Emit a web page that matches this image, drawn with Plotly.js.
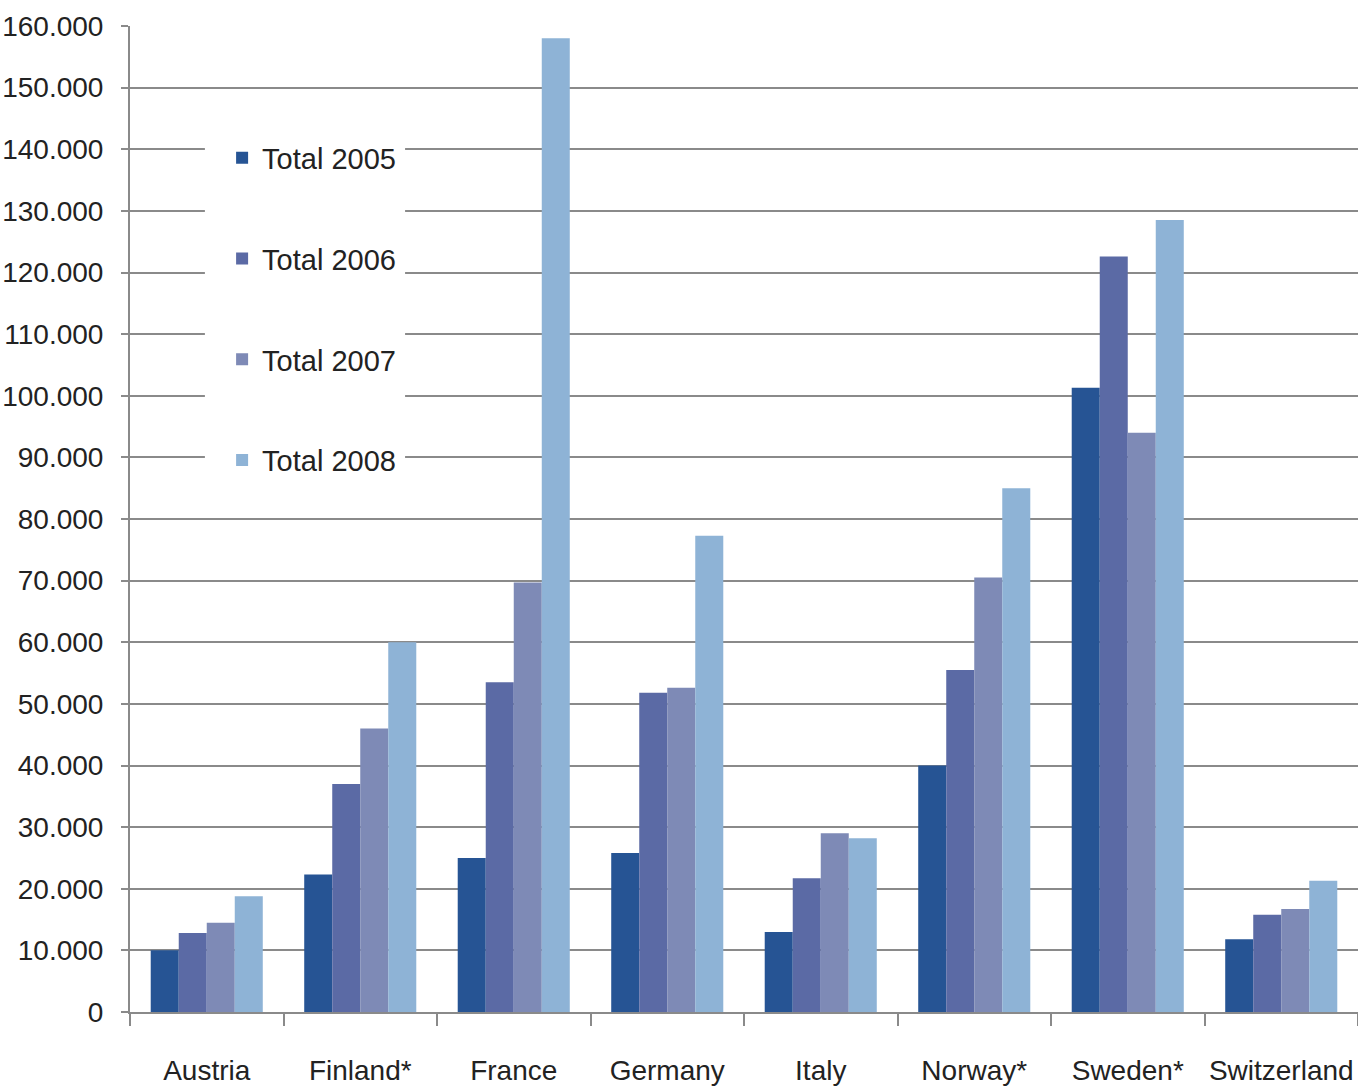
<!DOCTYPE html>
<html><head><meta charset="utf-8">
<script src="https://cdn.plot.ly/plotly-3.0.1.min.js"></script>
<style>html,body{margin:0;padding:0;background:#fff}#chart{width:1358px;height:1090px}</style>
</head><body><div id="chart"></div>
<script>
const countries = ["Austria","Finland*","France","Germany","Italy","Norway*","Sweden*","Switzerland"];
const total2005 = [10000, 22300, 25000, 25800, 13000, 40000, 101300, 11800];
const total2006 = [12800, 37000, 53500, 51800, 21700, 55500, 122600, 15800];
const total2007 = [14500, 46000, 69700, 52600, 29000, 70500, 94000, 16700];
const total2008 = [18800, 60000, 158000, 77300, 28200, 85000, 128500, 21300];
const seriesNames = ["Total 2005","Total 2006","Total 2007","Total 2008"];
const colors = ["#265494","#5b6aa5","#7e8ab6","#8eb3d6"];
const allVals = [total2005,total2006,total2007,total2008];
const font = "Liberation Sans, Arial, sans-serif";
const traces = allVals.map((v,i)=>({
  type:"bar", x:countries, y:v, name:seriesNames[i], legendgroup:"g"+i,
  marker:{color:colors[i], line:{width:0}}, hoverinfo:"y"
}));
const layout = {
  width:1358, height:1090,
  margin:{l:130, r:0, t:26, b:78},
  paper_bgcolor:"#fff", plot_bgcolor:"#fff",
  separators:",.",
  barmode:"group", bargap:0.27, bargroupgap:0,
  font:{family:font, size:28, color:"#222"},
  showlegend:true,
  legend:{x:0.075, xanchor:"left", y:0.892, yanchor:"top", bgcolor:"#fff",
    borderwidth:0, traceorder:"grouped", tracegroupgap:60,
    font:{family:font, size:29, color:"#222"}},
  shapes:[{type:"rect", xref:"paper", yref:"paper", x0:0.061, x1:0.224, y0:0.53, y1:0.905,
    fillcolor:"#fff", line:{width:0}, layer:"above"}],
  xaxis:{type:"category", showgrid:false, showline:true, linecolor:"#8a8a8a", linewidth:2,
    ticks:"outside", tickson:"boundaries", ticklen:12, tickcolor:"#8a8a8a", tickwidth:2,
    tickangle:0, ticklabelstandoff:32, tickfont:{family:font,size:28,color:"#222"}, fixedrange:true},
  yaxis:{range:[0,160000], dtick:10000, tickformat:",d", showgrid:true, gridcolor:"#8a8a8a", gridwidth:2,
    showline:true, linecolor:"#8a8a8a", linewidth:2, zeroline:false,
    ticks:"outside", ticklen:7, tickcolor:"#8a8a8a", tickwidth:2, ticklabelstandoff:12,
    tickfont:{family:font,size:28,color:"#222"}, fixedrange:true}
};
Plotly.newPlot("chart", traces, layout, {displayModeBar:false, staticPlot:true});
</script></body></html>
